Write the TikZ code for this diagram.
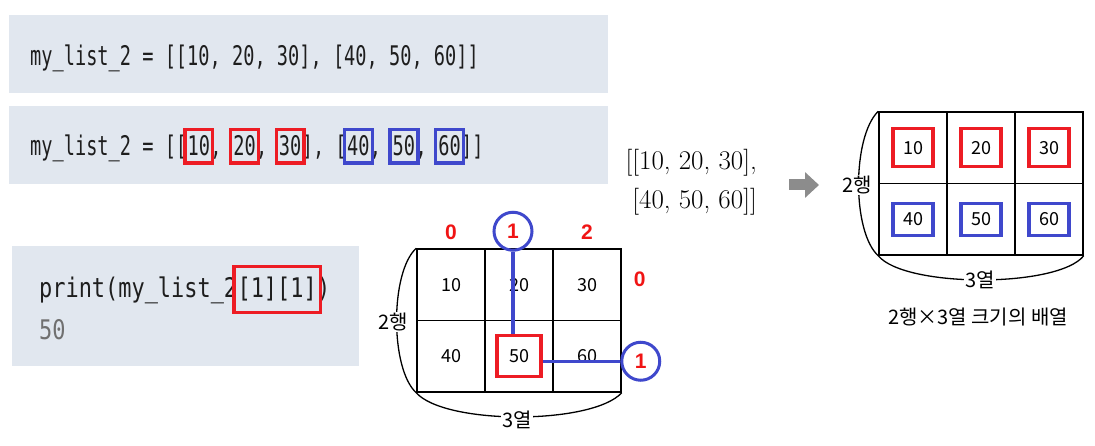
\documentclass[tikz,border=0pt]{standalone}
\usepackage{fontspec}
\usetikzlibrary{arrows.meta,positioning,calc,fit}
\newfontfamily\codefont[FakeStretch=0.69]{DejaVu Sans Mono}
\newfontfamily\codefontw[FakeStretch=0.812]{DejaVu Sans Mono}
\newfontfamily\kofont{Noto Sans CJK KR}
\newfontfamily\idxfont{Liberation Sans}
\definecolor{codebg}{RGB}{225,231,239}
\definecolor{codefg}{RGB}{30,30,30}
\definecolor{outgray}{RGB}{112,112,112}
\definecolor{boxred}{RGB}{237,28,36}
\definecolor{boxblue}{RGB}{63,72,204}
\definecolor{idxred}{RGB}{240,20,20}
\definecolor{arrowgray}{RGB}{140,140,140}

\begin{document}
\begin{tikzpicture}[
  x=1pt, y=-1pt,
  codebox/.style={fill=codebg, draw=none, inner sep=0pt, anchor=north west},
  code/.style={font=\codefont\fontsize{27}{32}\selectfont, text=codefg, inner sep=0pt, anchor=base west},
  codew/.style={code, font=\codefontw\fontsize{27}{32}\selectfont},
  redbox/.style={draw=boxred, line width=3.3pt, inner xsep=2.5pt, inner ysep=6.5pt},
  bluebox/.style={draw=boxblue, line width=3.3pt, inner xsep=2.5pt, inner ysep=6.5pt},
  cell/.style={draw, line width=1.5pt, minimum width=68pt, minimum height=71.5pt, inner sep=0pt, font=\kofont\fontsize{18}{20}\selectfont},
  brace/.style={line width=1.3pt},
  klabel/.style={font=\kofont\fontsize{20}{22}\selectfont, inner sep=1pt},
  idx/.style={font=\idxfont\bfseries\fontsize{21}{24}\selectfont, text=idxred, inner sep=0pt},
  ring/.style={circle, draw=boxblue, line width=3pt, minimum size=38pt},
  blueline/.style={draw=boxblue, line width=3.3pt},
  fatarrow/.style={draw=arrowgray, line width=11pt, -{Triangle[length=14pt, width=25pt]}},
]
\useasboundingbox (0,0) rectangle (1095,446);

% code box 1: the list as written
\node[codebox, minimum width=599pt, minimum height=78pt] (bg1) at (9,15) {};
\node[code] (line1) at (30,66) {my\_list\_2 = [[10, 20, 30], [40, 50, 60]]};

% code box 2: same list, rows marked
\node[codebox, minimum width=599pt, minimum height=78pt] (bg2) at (9,106) {};
\node[code] (l2a) at (30,156) {my\_list\_2 = [[};
\node[code] (v10) at (l2a.base east) {10};
\node[code] (s1)  at (v10.base east) {,\ \null};
\node[code] (v20) at (s1.base east)  {20};
\node[code] (s2)  at (v20.base east) {,\ \null};
\node[code] (v30) at (s2.base east)  {30};
\node[code] (s3)  at (v30.base east) {],\ [};
\node[code] (v40) at (s3.base east)  {40};
\node[code] (s4)  at (v40.base east) {,\ \null};
\node[code] (v50) at (s4.base east)  {50};
\node[code] (s5)  at (v50.base east) {,\ \null};
\node[code] (v60) at (s5.base east)  {60};
\node[code] (l2b) at (v60.base east) {]]};
\foreach \n in {v10,v20,v30} \node[redbox, fit=(\n)] {};
\foreach \n in {v40,v50,v60} \node[bluebox, fit=(\n)] {};

% code box 3: indexing
\node[codebox, minimum width=347pt, minimum height=120pt] (bg3) at (12,246) {};
\node[codew] (pr1)  at (39,298) {print(my\_list\_2};
\node[codew] (pidx) at (pr1.base east) {[1][1]};
\node[codew] (pr2)  at (pidx.base east) {)};
\node[codew, text=outgray] (pout) at (39,340) {50};
\node[redbox, fit=(pidx), inner xsep=3.5pt, inner ysep=11pt] {};

% nested list in two lines
\node[anchor=east, align=right, inner sep=0pt, font=\fontsize{27}{39}\selectfont] (lst) at (757,182)
  {[[10, 20, 30],\\{[40, 50, 60]]}};

\coordinate (arrS) at (789,185);
\coordinate (arrE) at (819,185);
\draw[fatarrow] (arrS) -- (arrE);

% left grid: my_list_2[1][1]
\foreach \v [count=\k from 0] in {10,20,30,40,50,60}{
  \pgfmathtruncatemacro{\ri}{\k/3}
  \pgfmathtruncatemacro{\ci}{mod(\k,3)}
  \node[cell] (L\ri\ci) at ({451+68*\ci},{284.75+71.5*\ri}) {\v};
}
\draw[brace] (L00.north west) .. controls (390,272) and (390,369) .. (L10.south west);
\draw[brace] (L10.south west) .. controls (445,425) and (592,425) .. (L12.south east);
\node[klabel, fill=white] (Lrows) at (393,322) {2행};
\node[klabel, fill=white] (Lcols) at (517,420) {3열};

\node[redbox, minimum width=44pt, minimum height=41pt] (hit) at (L11) {};
\foreach \c in {0,2} \node[idx] (col\c) at ($(L0\c.north)+(0,-16)$) {\c};
\node[idx] (row0) at ($(L02.east)+(18,-5)$) {0};
\node[idx, ring] (col1) at ($(L01.north)+(-6,-17)$) {1};
\node[idx, ring] (row1) at ($(L12.east)+(19,5)$) {1};
\draw[blueline] (col1.south) -- (col1.south |- hit.north);
\draw[blueline] (row1.west) -- (row1.west -| hit.east);

% right grid: 2 x 3 array
\foreach \v [count=\k from 0] in {10,20,30,40,50,60}{
  \pgfmathtruncatemacro{\ri}{\k/3}
  \pgfmathtruncatemacro{\ci}{mod(\k,3)}
  \node[cell] (R\ri\ci) at ({913+68*\ci},{147.75+71.5*\ri}) {\v};
}
\foreach \c in {0,1,2}{
  \node[redbox, minimum width=40pt, minimum height=38pt] at (R0\c) {};
  \node[bluebox, minimum width=40pt, minimum height=32pt] at (R1\c) {};
}
\draw[brace] (R00.north west) .. controls (852,137) and (852,232) .. (R10.south west);
\draw[brace] (R10.south west) .. controls (905,288) and (1058,288) .. (R12.south east);
\node[klabel, fill=white] (Rrows) at (857,185) {2행};
\node[klabel, fill=white] (Rcols) at (980,280) {3열};
\node[klabel] (cap) at (978,317) {2행×3열 크기의 배열};

\end{tikzpicture}
\end{document}
